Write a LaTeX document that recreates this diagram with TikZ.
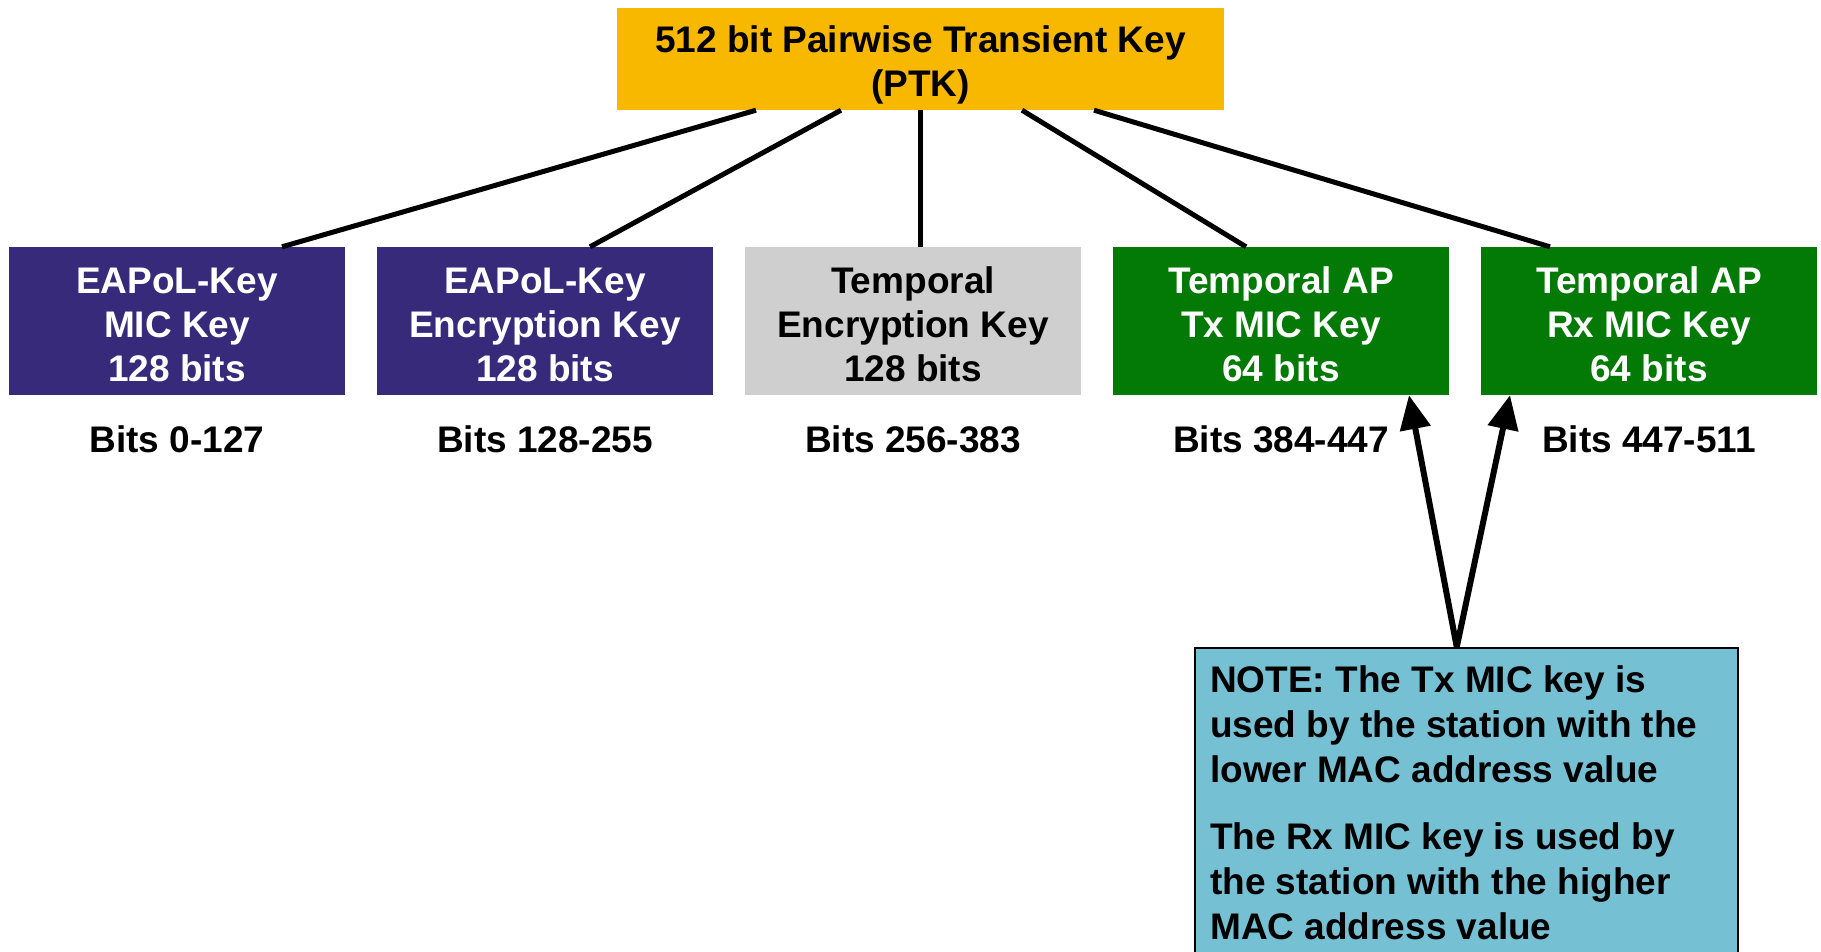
\documentclass[tikz,border=0pt]{standalone}
\usepackage{fontspec}
\setmainfont{Liberation Sans}
\usetikzlibrary{arrows.meta}
\definecolor{ptkorange}{HTML}{F8B800}
\definecolor{eapurple}{HTML}{382A7B}
\definecolor{tkgray}{HTML}{CFCFCF}
\definecolor{micgreen}{HTML}{047A06}
\definecolor{notecyan}{HTML}{76C0D4}
\newcommand{\dropped}[2]{\raisebox{-#1}[\height][\depth]{\begin{tabular}{@{}c@{}}#2\end{tabular}}}
\begin{document}
\begin{tikzpicture}[x=1pt,y=-1pt,
  bigfont/.style={font=\fontsize{37}{44}\selectfont\bfseries},
  keybox/.style={bigfont, minimum width=336pt, minimum height=148pt, inner sep=0pt, align=center},
  purplebox/.style={keybox, fill=eapurple, text=white},
  graybox/.style={keybox, fill=tkgray, text=black},
  greenbox/.style={keybox, fill=micgreen, text=white},
  bitslabel/.style={bigfont, inner sep=0pt},
  link/.style={line width=5pt, black},
  pointer/.style={line width=6pt, black, -{Triangle[length=34pt,width=30pt]}}
]
\useasboundingbox (0,0) rectangle (1821,951);
\clip (0,0) rectangle (1821,951);

\node[bigfont, fill=ptkorange, minimum width=607pt, minimum height=102pt, inner sep=0pt, align=center] (ptk) at (920.5,59) {\dropped{7pt}{512 bit Pairwise Transient Key\\(PTK)}};

\node[purplebox] (b1) at (177,321) {\dropped{7.5pt}{EAPoL-Key\\MIC Key\\128 bits}};
\node[purplebox] (b2) at (545,321) {\dropped{7.5pt}{EAPoL-Key\\Encryption Key\\128 bits}};
\node[graybox]   (b3) at (913,321) {\dropped{7.5pt}{Temporal\\Encryption Key\\128 bits}};
\node[greenbox]  (b4) at (1281,321) {\dropped{7.5pt}{Temporal AP\\Tx MIC Key\\64 bits}};
\node[greenbox]  (b5) at (1649,321) {\dropped{7.5pt}{Temporal AP\\Rx MIC Key\\64 bits}};

\node[bitslabel] (l1) at (177,439) {Bits 0-127};
\node[bitslabel] (l2) at (545,439) {Bits 128-255};
\node[bitslabel] (l3) at (913,439) {Bits 256-383};
\node[bitslabel] (l4) at (1281,439) {Bits 384-447};
\node[bitslabel] (l5) at (1649,439) {Bits 447-511};

\draw[link] ([xshift=-164.5pt]ptk.south) -- ([xshift=105pt]b1.north);
\draw[link] ([xshift=-79.5pt]ptk.south) -- ([xshift=45pt]b2.north);
\draw[link] (ptk.south) -- ([xshift=7.5pt]b3.north);
\draw[link] ([xshift=101.5pt]ptk.south) -- ([xshift=-35pt]b4.north);
\draw[link] ([xshift=173.5pt]ptk.south) -- ([xshift=-99pt]b5.north);

\node[draw=black, line width=1.5pt, fill=notecyan, minimum width=543pt, minimum height=360pt, inner sep=0pt, anchor=north west] (note) at (1194,647) {};
\node[font=\fontsize{37}{45}\selectfont\bfseries, inner sep=0pt, align=left, anchor=north west] (notetext) at (1210,665)
  {NOTE: The Tx MIC key is\\used by the station with the\\lower MAC address value\\[22pt]The Rx MIC key is used by\\the station with the higher\\MAC address value};

\draw[pointer] ([xshift=-9.5pt]note.north) -- ([xshift=128pt]b4.south);
\draw[pointer] ([xshift=-9.5pt]note.north) -- ([xshift=-139pt]b5.south);
\end{tikzpicture}
\end{document}
